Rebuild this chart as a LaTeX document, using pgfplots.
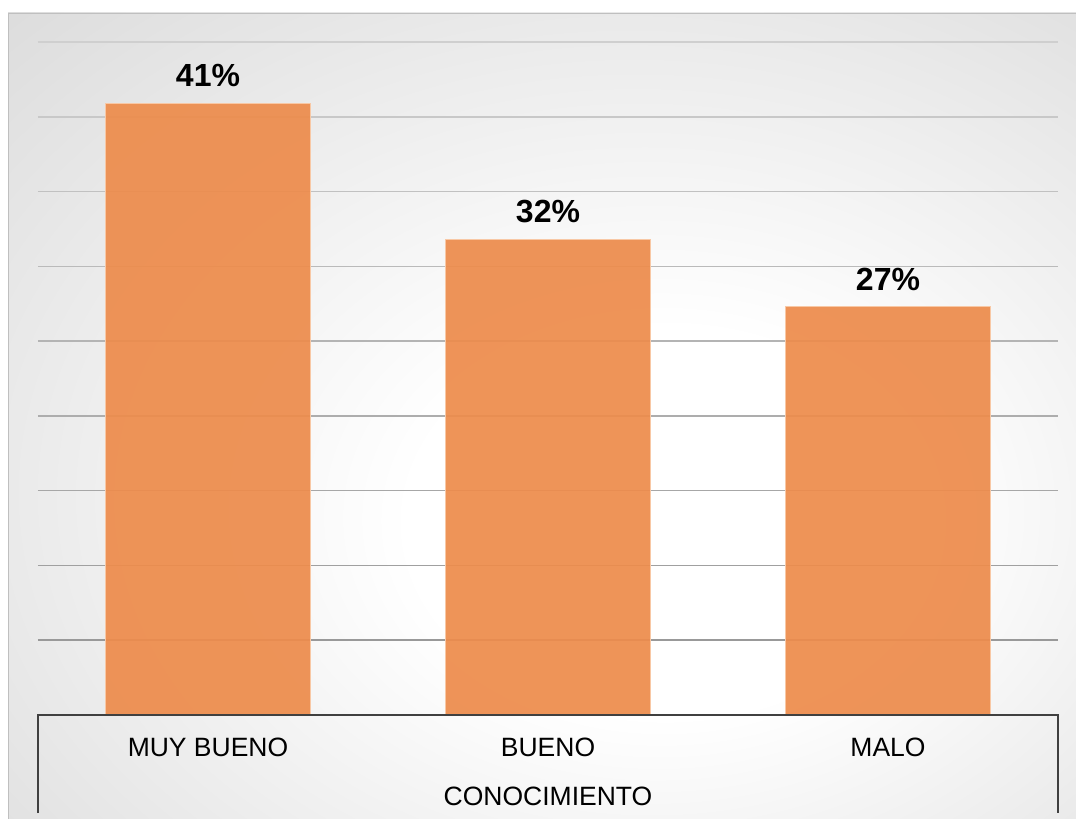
\documentclass[border=0pt]{standalone}
\usepackage{pgfplots}
\pgfplotsset{compat=1.18}
\usepackage{fontspec}
\setmainfont{Liberation Sans}
\definecolor{barorange}{RGB}{237,140,76}
\definecolor{baredge}{RGB}{248,200,165}
\definecolor{axdark}{RGB}{64,64,64}
\pgfdeclareradialshading{bgshade}{\pgfpoint{7bp}{-8bp}}{color(0bp)=(white); color(12bp)=(white); color(70bp)=(black!28)}
\begin{document}
\begin{tikzpicture}
\useasboundingbox (0,0) rectangle (538pt,409.5pt);
\fill[white] (0,0) rectangle (538pt,409.5pt);
\shade[shading=bgshade] (4pt,0) rectangle (538pt,403pt);
\draw[black!25,line width=0.6pt] (4.3pt,0) -- (4.3pt,402.7pt) -- (538pt,402.7pt);
\begin{axis}[
  at={(19pt,52pt)}, anchor=south west, scale only axis,
  width=510pt, height=336.5pt,
  xmin=-0.5, xmax=2.5, ymin=0, ymax=45,
  axis line style={draw=none},
  ytick=\empty,
  xtick={0,1,2}, xticklabels={MUY BUENO,BUENO,MALO},
  major tick length=0pt, xtick style={draw=none},
  xticklabel style={font=\fontsize{13.25}{16}\selectfont, anchor=center, yshift=-16pt},
  clip=false,
  ybar, bar width=102.5pt,
  nodes near coords, point meta=explicit symbolic,
  nodes near coords style={font=\bfseries\fontsize{16}{19}\selectfont, text=black, fill opacity=1, text opacity=1, yshift=4.5pt},
]
\draw[black!40, line width=0.75pt] (axis cs:-0.5,5) -- (axis cs:2.5,5);
\draw[black!37.4, line width=0.75pt] (axis cs:-0.5,10) -- (axis cs:2.5,10);
\draw[black!34.75, line width=0.75pt] (axis cs:-0.5,15) -- (axis cs:2.5,15);
\draw[black!32.1, line width=0.75pt] (axis cs:-0.5,20) -- (axis cs:2.5,20);
\draw[black!29.5, line width=0.75pt] (axis cs:-0.5,25) -- (axis cs:2.5,25);
\draw[black!26.9, line width=0.75pt] (axis cs:-0.5,30) -- (axis cs:2.5,30);
\draw[black!24.25, line width=0.75pt] (axis cs:-0.5,35) -- (axis cs:2.5,35);
\draw[black!21.6, line width=0.75pt] (axis cs:-0.5,40) -- (axis cs:2.5,40);
\draw[black!19, line width=0.75pt] (axis cs:-0.5,45) -- (axis cs:2.5,45);
\addplot[fill=barorange, fill opacity=0.93, draw=baredge, line width=0.5pt]
  coordinates {(0,40.9) [41\%] (1,31.8) [32\%] (2,27.3) [27\%]};
\draw[axdark, line width=1.4pt] ([yshift=-49pt]axis cs:-0.5,0) -- (axis cs:-0.5,0) -- (axis cs:2.5,0) -- ([yshift=-49pt]axis cs:2.5,0);
\node[font=\fontsize{13.25}{16}\selectfont] at ([yshift=-40.75pt]axis cs:1,0) {CONOCIMIENTO};
\end{axis}
\end{tikzpicture}
\end{document}
